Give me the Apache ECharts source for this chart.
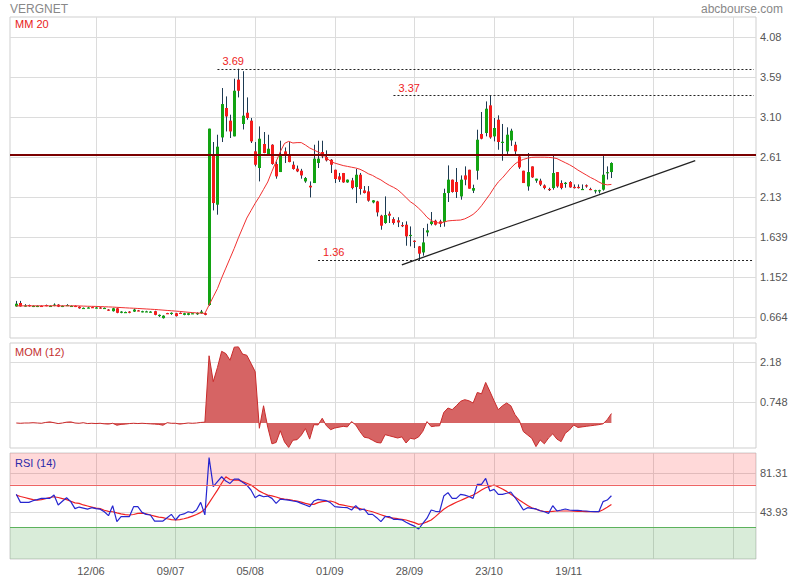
<!DOCTYPE html>
<html><head><meta charset="utf-8">
<script src="https://cdn.jsdelivr.net/npm/echarts@6/dist/echarts.min.js"></script>
<style>html,body{margin:0;padding:0;background:#fff}#c{width:800px;height:580px}</style>
</head><body><div id="c"></div>
<script>
// ---------- DATA ----------
const N_CATS = 178;            // trading-day slots on the x axis (incl. empty future)
const FIRST = 1;               // category index of the first candle
const open = [.793,.835,.795,.81,.79,.79,.80,.81,.80,.80,.815,.79,.80,.80,.80,.79,.77,.775,.785,.775,.78,.77,.755,.735,.77,.715,.72,.73,.73,.745,.728,.73,.725,.735,.675,.65,.712,.705,.71,.715,.69,.69,.71,.71,.71,.71,
 .81,2.642,2.033,2.853,3.212,3.057,2.866,3.557,3.017,3.154,3.057,2.683,2.480,2.773,2.651,2.764,2.529,2.431,2.683,2.651,2.520,2.472,2.447,2.317,2.264,2.297,2.541,2.675,
 2.614,2.581,2.459,2.378,2.419,2.305,2.329,2.248,2.398,2.207,2.195,2.061,2.073,1.899,1.810,1.923,1.858,1.842,1.785,1.789,1.655,1.594,1.525,1.451,1.695,
 1.797,1.838,1.83,1.822,2.175,2.338,2.310,2.134,2.390,2.459,2.204,2.447,2.895,2.907,3.244,2.866,3.069,2.79,2.683,2.817,2.764,2.622,2.447,2.256,2.500,2.326,2.326,2.268,2.225,2.236,2.431,2.297,2.29,2.310,2.25,2.25,2.22,2.27,2.225,2.205,2.205,2.216,2.419,2.431];
const close = [.826,.793,.805,.795,.80,.80,.795,.80,.80,.815,.79,.80,.81,.80,.79,.77,.775,.78,.78,.78,.77,.775,.745,.77,.715,.73,.725,.715,.755,.74,.735,.733,.73,.69,.69,.68,.705,.715,.675,.705,.71,.71,.71,.712,.73,.69,
 2.96,2.053,2.740,3.260,3.109,2.926,3.422,3.422,3.118,3.090,2.805,2.520,2.837,2.663,2.715,2.529,2.378,2.651,2.642,2.553,2.468,2.439,2.390,2.358,2.244,2.594,2.594,2.622,
 2.573,2.520,2.346,2.338,2.305,2.338,2.236,2.398,2.224,2.175,2.082,2.086,1.939,1.777,1.907,1.899,1.810,1.817,1.775,1.647,1.665,1.582,1.436,1.573,1.720,
 1.829,1.789,1.80,2.175,2.338,2.188,2.188,2.338,2.338,2.228,2.236,2.825,2.837,3.203,2.853,2.968,2.797,2.80,2.886,2.935,2.683,2.488,2.297,2.431,2.366,2.350,2.277,2.236,2.215,2.419,2.256,2.236,2.30,2.244,2.243,2.243,2.225,2.255,2.215,2.21,2.21,2.398,2.43,2.541];
const low = [.79,.79,.79,.79,.785,.785,.79,.795,.795,.795,.785,.785,.80,.795,.785,.765,.77,.77,.775,.77,.765,.765,.74,.73,.71,.71,.715,.71,.725,.735,.72,.725,.72,.685,.665,.645,.70,.69,.67,.70,.685,.685,.705,.69,.705,.685,
 .80,1.963,1.911,2.797,2.926,2.846,2.866,3.341,2.95,3.069,2.785,2.500,2.317,2.66,2.64,2.52,2.350,2.431,2.541,2.55,2.46,2.43,2.35,2.30,2.122,2.297,2.480,2.60,
 2.56,2.419,2.297,2.31,2.30,2.30,2.22,2.053,2.155,2.17,2.07,2.05,1.890,1.728,1.80,1.810,1.79,1.76,1.76,1.533,1.525,1.505,1.36,1.411,1.647,
 1.781,1.78,1.76,1.765,2.066,2.18,2.115,2.094,2.27,2.228,2.175,2.338,2.83,2.866,2.837,2.805,2.703,2.569,2.651,2.75,2.64,2.47,2.297,2.204,2.36,2.30,2.26,2.22,2.20,2.216,2.24,2.22,2.24,2.24,2.23,2.23,2.215,2.24,2.21,2.17,2.17,2.204,2.34,2.358];
const high = [.86,.86,.82,.815,.805,.805,.805,.815,.805,.83,.82,.805,.82,.805,.805,.795,.78,.785,.79,.785,.785,.78,.76,.775,.775,.735,.73,.735,.765,.75,.74,.74,.735,.74,.695,.685,.715,.72,.715,.72,.715,.715,.715,.72,.75,.715,
 2.96,2.797,2.886,3.455,3.353,3.130,3.569,3.69,3.66,3.341,3.090,2.797,2.987,2.919,2.886,2.77,2.56,2.813,2.731,2.797,2.56,2.51,2.47,2.37,2.317,2.764,2.813,2.813,
 2.695,2.59,2.46,2.42,2.42,2.34,2.36,2.468,2.42,2.26,2.26,2.09,2.08,1.91,2.134,1.95,1.88,1.88,1.82,1.83,1.768,1.60,1.53,1.749,1.801,
 1.944,1.85,1.85,2.228,2.512,2.34,2.480,2.390,2.500,2.459,2.277,2.947,3.163,3.292,3.37,3.090,3.122,3.017,2.976,2.959,2.80,2.64,2.447,2.663,2.50,2.35,2.35,2.28,2.24,2.634,2.431,2.33,2.31,2.32,2.28,2.28,2.28,2.28,2.24,2.215,2.215,2.634,2.50,2.55];
const ma20 = [.80,.80,.80,.80,.80,.80,.80,.80,.80,.801,.80,.80,.80,.80,.80,.799,.797,.795,.794,.793,.791,.789,.787,.785,.782,.779,.776,.773,.771,.768,.765,.762,.759,.756,.752,.748,.744,.740,.736,.732,.727,.722,.718,.714,.711,.708,
 .81,.91,1.01,1.14,1.26,1.38,1.50,1.63,1.75,1.87,1.96,2.05,2.13,2.22,2.31,
 2.44,2.56,2.68,2.78,2.805,2.785,2.79,2.79,2.76,2.725,2.70,2.675,2.65,2.61,2.56,2.54,2.525,2.51,2.50,2.49,2.48,2.465,2.44,2.41,2.39,2.36,2.335,2.30,2.27,2.245,2.215,2.17,2.12,2.07,2.035,1.99,1.94,1.88,
 1.84,1.815,1.81,1.82,1.835,1.84,1.843,1.846,1.86,1.885,1.915,1.96,2.02,2.09,2.16,2.24,2.31,2.36,2.42,2.48,2.53,2.565,2.585,2.60,2.61,2.612,2.612,2.612,2.61,2.605,2.595,2.57,2.545,2.52,2.49,2.455,2.425,2.395,2.365,2.34,2.31,2.285,2.275,2.28];
const mom12 = [0,-.01,0,0,.01,0,-.01,.02,.04,.01,-.02,0,.03,.04,0,-.01,.01,-.02,-.01,-.02,-.01,-.03,-.04,-.01,-.08,-.05,-.04,-.02,-.01,-.02,-.01,-.02,-.03,-.04,-.05,-.08,.01,-.01,-.01,-.04,-.02,0,-.01,0,.02,.03,
 2.42,1.49,2.00,2.58,2.50,2.26,2.73,2.74,2.48,2.44,2.15,1.85,-.19,.62,-.15,-.75,-.70,-.28,-.68,-.88,-.62,-.60,-.44,-.20,-.58,-.06,-.07,.17,
 -.10,-.24,-.18,-.15,-.12,-.14,.05,-.07,-.31,-.51,-.54,-.62,-.70,-.72,-.42,-.46,-.50,-.54,-.50,-.72,-.55,-.58,-.50,-.30,.05,-.13,-.11,-.10,.38,.54,
 .48,.62,.78,.84,.80,.72,1.10,1.05,1.46,1.14,.80,.48,.62,.72,.62,.30,.10,-.31,-.43,-.55,-.85,-.61,-.75,-.54,-.39,-.58,-.67,-.37,-.25,-.07,-.16,-.14,-.12,-.10,-.08,-.06,-.03,.12,.34];
const rsi14 = [61.0,53.4,53.4,53.4,55.0,56.0,57.2,57.2,57.2,60.3,50.9,54.5,57.8,54.1,47.5,49.0,48.0,47.0,48.4,47.5,47.0,44.6,40.9,50.3,35.2,40.0,40.0,40.0,49.4,49.4,44.0,42.1,41.5,35.8,35.8,35.8,39.0,42.1,36.8,41.5,42.5,44.6,43.7,46.2,53.4,41.6,95.6,68.2,73.0,77.6,73.5,71.3,75.4,75.4,72.3,69.8,65.1,57.8,60.3,58.7,59.4,57.2,52.4,56.5,56.0,55.6,54.7,54.1,52.5,51.0,49.4,54.7,
 56.2,55.6,55.0,53.0,49.4,49.0,48.6,48.4,46.2,50.3,46.2,47.2,42.1,42.1,39.0,35.2,40.0,40.0,37.4,37.4,37.0,34.6,32.7,31.0,28.3,33.6,38.5,46.2,45.0,44.6,59.4,62.6,57.2,57.2,61.0,60.3,59.0,57.2,70.4,70.4,76.0,64.1,65.7,61.0,61.0,62.0,63.2,58.0,52.5,46.2,48.4,47.8,47.2,45.5,44.6,43.0,50.3,45.3,46.2,47.2,46.2,45.8,45.8,45.5,45.3,44.8,44.6,44.6,54.1,55.6,59.7];
const rsiSignal = [60.3,59,58,57,56,55.6,56,57,58,58.7,58,57,56,54.5,53,52.5,51,50,49,48,47.5,46,45,44.6,43.5,42.5,41.8,41.5,42,43,43.2,42.5,41.5,40.5,39.5,39,38,37.2,36.8,37.2,38,39,40.5,42,44,47,53,59,65,71.5,77.6,75,74.5,74.4,73,71.5,69.8,67,64,62,60.3,59.5,58.5,57.2,56.5,56,55.3,54.7,53.7,52.5,51.5,51.5,
 53.2,54.1,54.5,54.7,53.5,51.5,50.8,50.0,49.2,48.4,47.5,46.5,45.5,44.6,43.2,41.8,40.4,39.0,38.5,38.0,37.4,36.8,35.5,34.3,32.7,33.5,35.0,36.8,40,43.5,47,49.5,51.5,53.5,55.2,57,58.7,60.3,62.5,65,67.2,68.5,69.8,68,66,63.8,61,58.5,55.6,53,50.5,48.3,47,45.7,44.8,44.6,45.0,45.3,45.3,45.3,45.3,45.2,45.0,44.9,44.7,44.6,44.6,44.6,46.5,48.8,51.5];

const xTickIdx = [20,39,58,77,96,115,134];
const xTickLabels = ['12/06','09/07','05/08','01/09','28/09','23/10','19/11'];
const xGridIdx = [20,39,58,77,96,115,134,153,172];
const priceTicks = [0.664,1.152,1.639,2.127,2.615,3.102,3.59,4.077];
const priceTickLabels = ['0.664','1.152','1.639','2.13','2.61','3.10','3.59','4.08'];
const momTicks = [0.748,2.18];
const momTickLabels = ['0.748','2.18'];
const rsiTicks = [43.93,81.31];
const rsiTickLabels = ['43.93','81.31'];
const resistance = 2.64;
const levels = [3.69,3.37,1.36];
const levelStart = [49,91,73];
const trendFrom = [93,1.30];
const trendTo = [163,2.57];
const rsiHigh = 70, rsiLow = 30;

// ---------- BUILD ----------
const cats = Array.from({length:N_CATS},(_, i)=>i);
const candleData = open.map((o,k)=>[FIRST+k, o, close[k], low[k], high[k]]);
const pad = arr => Array(FIRST).fill('-').concat(arr);
const FONT = "'Liberation Sans', Arial, sans-serif";
const GREEN = '#12a312', RED = '#f51c1c', WICK = '#1d3a52';
function tickFmt(ticks, labels){ return v => { for(let i=0;i<ticks.length;i++){ if(Math.abs(ticks[i]-v)<1e-6) return labels[i]; } return ''; }; }

const grids = [
  {left:10, top:17, width:746, height:321},
  {left:10, top:343, width:746, height:105},
  {left:10, top:453, width:746, height:106}
].map(g=>Object.assign(g,{show:true, borderColor:'#cfcfcf', borderWidth:1, backgroundColor:'transparent'}));

const xAxes = [0,1,2].map(g=>({
  type:'category', gridIndex:g, data:cats, boundaryGap:true,
  axisLine:{show:false}, axisTick:{show:false},
  axisLabel:{show:g===2, interval:(i)=>xTickIdx.includes(i),
    formatter:(v)=>{const k=xTickIdx.indexOf(Number(v)); return k>=0?xTickLabels[k]:'';},
    color:'#555', fontSize:11, fontFamily:FONT, margin:6, padding:[0,10,0,0]},
  splitLine:{show:true, interval:(i)=>xGridIdx.includes(i), alignWithLabel:true, lineStyle:{color:'#dcdcdc', width:1}}
}));

function yAx(g, min, max, ticks, labels){
  return {type:'value', gridIndex:g, position:'right', min, max, scale:true,
    axisLine:{show:false}, axisTick:{show:false, customValues:ticks},
    axisLabel:{customValues:ticks, formatter:tickFmt(ticks,labels), color:'#555', fontSize:11, fontFamily:FONT, margin:4},
    splitLine:{show:true, lineStyle:{color:'#dcdcdc', width:1}}};
}

function renderCandle(params, api){
  const i=api.value(0), o=api.value(1), c=api.value(2), l=api.value(3), h=api.value(4);
  const pO=api.coord([i,o]), pC=api.coord([i,c]), pL=api.coord([i,l]), pH=api.coord([i,h]);
  const cx=Math.round(pO[0])+0.5;
  const up = c>=o;
  const top=Math.min(pO[1],pC[1]);
  const hg=Math.max(1.2, Math.abs(pO[1]-pC[1]));
  return {type:'group', children:[
    {type:'line', shape:{x1:cx,y1:pH[1],x2:cx,y2:pL[1]}, style:{stroke:WICK, lineWidth:1}},
    {type:'rect', shape:{x:cx-1.5, y:top, width:3, height:hg}, style:{fill: up?GREEN:RED}}
  ]};
}

const levelLines = levels.map((v,k)=>[
  {coord:[levelStart[k], v], lineStyle:{color:'#222', type:[2,2], width:1},
   label:{show:true, position:'insideStartTop', formatter:String(v.toFixed(2)), color:'#ee2222', fontSize:11, fontFamily:FONT, distance:[5,2]}},
  {coord:[N_CATS-1, v]}
]);

const option = {
  animation:false,
  backgroundColor:'#fff',
  grid: grids,
  xAxis: xAxes,
  yAxis: [
    yAx(0, 0.408, 4.321, priceTicks, priceTickLabels),
    yAx(1, -0.90, 2.88, momTicks, momTickLabels),
    yAx(2, 0, 100, rsiTicks, rsiTickLabels)
  ],
  graphic: [
    {type:'text', x:10, y:9, style:{text:'VERGNET', fill:'#888', font:'12px '+FONT, verticalAlign:'middle'}},
    {type:'text', x:783, y:9, style:{text:'abcbourse.com', fill:'#888', font:'12px '+FONT, align:'right', verticalAlign:'middle'}},
    {type:'text', x:15, y:24, z:100, style:{text:'MM 20', fill:'#e82020', font:'11px '+FONT, verticalAlign:'middle'}},
    {type:'text', x:15, y:351.5, z:100, style:{text:'MOM (12)', fill:'#c43030', font:'11px '+FONT, verticalAlign:'middle'}},
    {type:'text', x:15, y:462.5, z:100, style:{text:'RSI (14)', fill:'#2a2aaa', font:'11px '+FONT, verticalAlign:'middle'}}
  ],
  series: [
    {type:'custom', name:'candles', xAxisIndex:0, yAxisIndex:0, data:candleData, encode:{x:0, y:[1,2,3,4]}, renderItem:renderCandle, clip:true, z:2},
    {type:'line', name:'MM 20', xAxisIndex:0, yAxisIndex:0, data:pad(ma20), symbol:'none', z:3,
      lineStyle:{color:'#f03030', width:1}, silent:true,
      markLine:{symbol:['none','none'], silent:true, animation:false,
        data:[
          {yAxis:resistance, lineStyle:{color:'#7a0000', width:2, type:'solid'}, label:{show:false}},
          [{coord:trendFrom, lineStyle:{color:'#222', width:1.3, type:'solid'}, label:{show:false}}, {coord:trendTo}]
        ].concat(levelLines)}},
    {type:'line', name:'MOM', xAxisIndex:1, yAxisIndex:1, data:pad(mom12), symbol:'none',
      lineStyle:{color:'#c82c2c', width:1}, areaStyle:{color:'#d66464', opacity:1}},
    {type:'line', name:'RSI', xAxisIndex:2, yAxisIndex:2, data:pad(rsi14), symbol:'none', z:4,
      lineStyle:{color:'#2626d0', width:1.2},
      markArea:{silent:true, data:[
        [{yAxis:rsiHigh, itemStyle:{color:'rgba(255,0,0,0.15)'}},{yAxis:100}],
        [{yAxis:0, itemStyle:{color:'rgba(0,128,0,0.15)'}},{yAxis:rsiLow}]
      ]},
      markLine:{symbol:['none','none'], silent:true, label:{show:false}, data:[
        {yAxis:rsiHigh, lineStyle:{color:'#ee6464', width:1.2, type:'solid'}},
        {yAxis:rsiLow, lineStyle:{color:'#5cb25c', width:1.2, type:'solid'}}
      ]}},
    {type:'line', name:'RSI signal', xAxisIndex:2, yAxisIndex:2, data:pad(rsiSignal), symbol:'none', z:3,
      lineStyle:{color:'#f02222', width:1.2}}
  ]
};
const chart = echarts.init(document.getElementById('c'), null, {renderer:'svg'});
chart.setOption(option);
</script></body></html>
